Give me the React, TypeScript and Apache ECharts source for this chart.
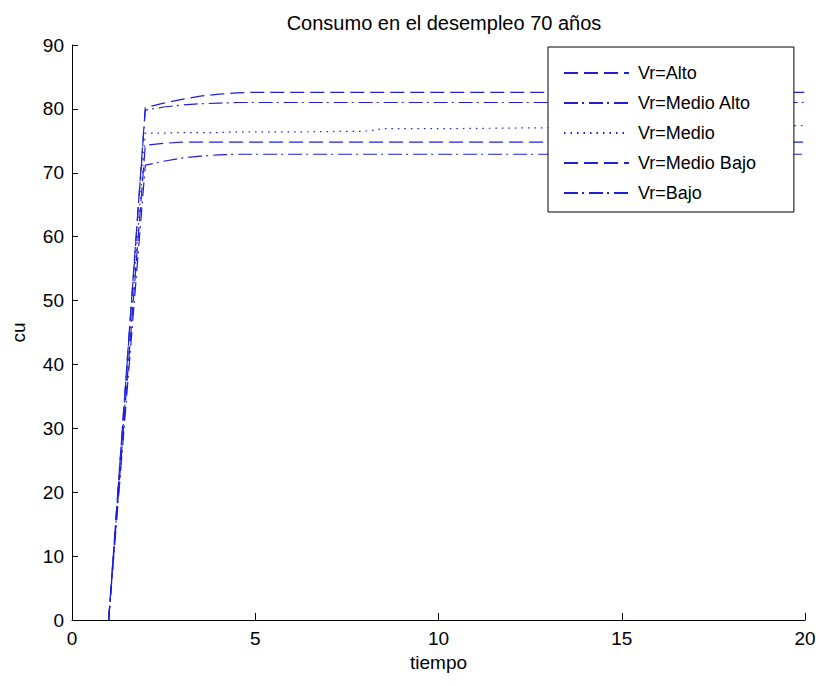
import React, { useEffect, useRef } from "react";
import * as echarts from "echarts";

// Time steps (tiempo) shared by all five series
const tiempo = [1, 2, 2.5, 3, 3.5, 4, 4.5, 5, 6, 8, 8.5, 10, 12, 14, 16, 18, 20];

// Consumption (cu) per income level
const vrAlto = [0, 80.2, 80.9, 81.5, 82.0, 82.3, 82.5, 82.6, 82.6, 82.6, 82.6, 82.6, 82.6, 82.6, 82.6, 82.6, 82.6];
const vrMedioAlto = [0, 79.8, 80.3, 80.6, 80.8, 80.9, 81.0, 81.0, 81.0, 81.0, 81.0, 81.0, 81.0, 81.0, 81.0, 81.0, 81.0];
const vrMedio = [0, 76.2, 76.2, 76.3, 76.3, 76.3, 76.4, 76.4, 76.4, 76.5, 76.9, 76.9, 77.0, 77.1, 77.2, 77.3, 77.4];
const vrMedioBajo = [0, 74.3, 74.6, 74.8, 74.8, 74.8, 74.8, 74.8, 74.8, 74.8, 74.8, 74.8, 74.8, 74.8, 74.8, 74.8, 74.8];
const vrBajo = [0, 71.2, 71.8, 72.3, 72.6, 72.8, 72.9, 72.9, 72.9, 72.9, 72.9, 72.9, 72.9, 72.9, 72.9, 72.9, 72.9];

const seriesNames = ["Vr=Alto", "Vr=Medio Alto", "Vr=Medio", "Vr=Medio Bajo", "Vr=Bajo"];
const seriesValues = [vrAlto, vrMedioAlto, vrMedio, vrMedioBajo, vrBajo];

// Axis ranges
const xMin = 0, xMax = 20, xStep = 5;
const yMin = 0, yMax = 90, yStep = 10;

const FONT = "'Liberation Sans', Arial, sans-serif";
const BLUE = "#1f1fd6";
const DASH = [14, 6];
const DASH_DOT = [14, 4, 2, 5];
const DOT = [1.5, 5];
const lineTypes = [DASH, DASH_DOT, DOT, DASH, DASH_DOT];

export default function App() {
  const ref = useRef<HTMLDivElement>(null);

  useEffect(() => {
    if (!ref.current) return;
    document.body.style.margin = "0";
    const chart = echarts.init(ref.current, undefined, { renderer: "svg" });
    chart.setOption({
      animation: false,
      backgroundColor: "#fff",
      title: {
        text: "Consumo en el desempleo 70 años",
        left: 439,
        textAlign: "center",
        top: 8,
        textStyle: { fontFamily: FONT, fontSize: 20, fontWeight: "normal", color: "#000" },
      },
      grid: { left: 72, right: 15, top: 45, bottom: 66 },
      legend: {
        orient: "vertical",
        left: 548,
        top: 47,
        itemWidth: 65,
        itemHeight: 14,
        itemGap: 12,
        padding: [17, 38, 10, 15],
        borderColor: "#000",
        borderWidth: 1,
        borderRadius: 0,
        backgroundColor: "#fff",
        // line-only keys: hide the marker drawn in the middle of each key
        itemStyle: { opacity: 0, borderWidth: 0 },
        textStyle: { fontFamily: FONT, fontSize: 18, color: "#000", padding: [0, 0, 0, 4] },
        data: seriesNames,
      },
      xAxis: {
        type: "value",
        min: xMin,
        max: xMax,
        interval: xStep,
        name: "tiempo",
        nameLocation: "middle",
        nameGap: 32,
        nameTextStyle: { fontFamily: FONT, fontSize: 19, color: "#000" },
        axisLine: { lineStyle: { color: "#000", width: 1 } },
        axisTick: { inside: true, length: 7, lineStyle: { color: "#000" } },
        axisLabel: { fontFamily: FONT, fontSize: 19, color: "#000", margin: 9 },
        splitLine: { show: false },
      },
      yAxis: {
        type: "value",
        min: yMin,
        max: yMax,
        interval: yStep,
        name: "cu",
        nameLocation: "middle",
        nameGap: 44,
        nameTextStyle: { fontFamily: FONT, fontSize: 19, color: "#000" },
        axisLine: { show: true, lineStyle: { color: "#000", width: 1 } },
        axisTick: { show: true, inside: true, length: 6, lineStyle: { color: "#000" } },
        axisLabel: { fontFamily: FONT, fontSize: 19, color: "#000", margin: 8 },
        splitLine: { show: false },
      },
      series: seriesNames.map((name, i) => ({
        name,
        type: "line",
        data: tiempo.map((t, k) => [t, seriesValues[i][k]]),
        showSymbol: false,
        symbol: "none",
        color: BLUE,
        lineStyle: { color: BLUE, width: 1.2, type: lineTypes[i] },
        z: 2,
      })),
    });
    return () => chart.dispose();
  }, []);

  return <div ref={ref} style={{ width: 820, height: 686 }} />;
}
